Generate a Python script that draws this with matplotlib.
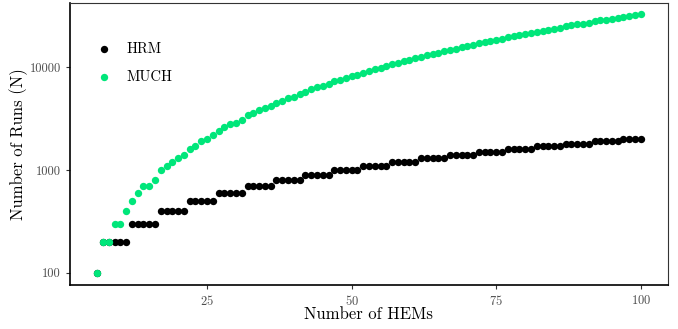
import matplotlib
matplotlib.use("Agg")
import matplotlib.pyplot as plt
import matplotlib.ticker as mticker

plt.rcParams['font.family'] = 'serif'
plt.rcParams['font.serif'] = ['cmr10', 'DejaVu Serif']
plt.rcParams['axes.formatter.use_mathtext'] = True
plt.rcParams['mathtext.fontset'] = 'cm'

hems = list(range(6, 101))

hrm = [100,
       200, 200, 200, 200, 200,
       300, 300, 300, 300, 300,
       400, 400, 400, 400, 400,
       500, 500, 500, 500, 500,
       600, 600, 600, 600, 600,
       700, 700, 700, 700, 700,
       800, 800, 800, 800, 800,
       900, 900, 900, 900, 900,
       1000, 1000, 1000, 1000, 1000,
       1100, 1100, 1100, 1100, 1100,
       1200, 1200, 1200, 1200, 1200,
       1300, 1300, 1300, 1300, 1300,
       1400, 1400, 1400, 1400, 1400,
       1500, 1500, 1500, 1500, 1500,
       1600, 1600, 1600, 1600, 1600,
       1700, 1700, 1700, 1700, 1700,
       1800, 1800, 1800, 1800, 1800,
       1900, 1900, 1900, 1900, 1900,
       2000, 2000, 2000, 2000]

much = [100, 200, 200, 300, 300, 400, 500, 600, 700, 700,
        800, 1000, 1100, 1200, 1300, 1400, 1600, 1700, 1900, 2000,
        2200, 2400, 2600, 2800, 2900, 3100, 3400, 3600, 3800, 4000,
        4200, 4500, 4700, 5000, 5200, 5500, 5800, 6100, 6400, 6600,
        6900, 7300, 7600, 7900, 8200, 8500, 8900, 9200, 9600, 9900,
        10300, 10700, 11100, 11500, 11800, 12200, 12700, 13100, 13500, 13900,
        14300, 14800, 15200, 15700, 16100, 16600, 17100, 17600, 18100, 18500,
        19000, 19600, 20100, 20600, 21100, 21600, 22200, 22700, 23300, 23800,
        24400, 25000, 25600, 26200, 26700, 27300, 28000, 28600, 29200, 29800,
        30400, 31100, 31700, 32400, 33000]

series_names = ["HRM", "MUCH"]
colors = ["#000000", "#00E67A"]

fig = plt.figure(figsize=(6.78, 3.29), dpi=100)
ax = fig.add_axes([70/678, 1 - 285/329, (668-70)/678, (285-3)/329])

h1 = ax.scatter(hems, hrm, s=28, color=colors[0], label=series_names[0], zorder=2, linewidths=0)
h2 = ax.scatter(hems, much, s=28, color=colors[1], label=series_names[1], zorder=3, linewidths=0)

ax.set_yscale('log')
ax.set_xlim(1.3, 104.7)
ax.set_ylim(76, 42300)
ax.set_xticks([25, 50, 75, 100])
ax.set_yticks([100, 1000, 10000])
ax.yaxis.set_major_formatter(mticker.FuncFormatter(lambda v, p: f"{int(round(v))}"))
ax.yaxis.set_minor_locator(mticker.NullLocator())
ax.tick_params(axis='both', labelsize=9, length=3, width=0.8, colors='#333333', labelcolor='#4d4d4d')

for side in ['left', 'bottom']:
    ax.spines[side].set_linewidth(1.2)
    ax.spines[side].set_color('black')
for side in ['top', 'right']:
    ax.spines[side].set_linewidth(0.8)
    ax.spines[side].set_color('#333333')

ax.set_xlabel("Number of HEMs", fontsize=12, labelpad=-1)
ax.set_ylabel("Number of Runs (N)", fontsize=12)
ax.yaxis.set_label_coords(-(70-28)/598, 0.5)

ax.legend([h1, h2], series_names, loc='upper left',
          bbox_to_anchor=(0.045, 0.861), frameon=False, fontsize=10.5,
          handlelength=1.0, handletextpad=1.05, borderpad=0, borderaxespad=0,
          labelspacing=1.0, markerscale=1.0)

fig.savefig("out.png", dpi=100)
